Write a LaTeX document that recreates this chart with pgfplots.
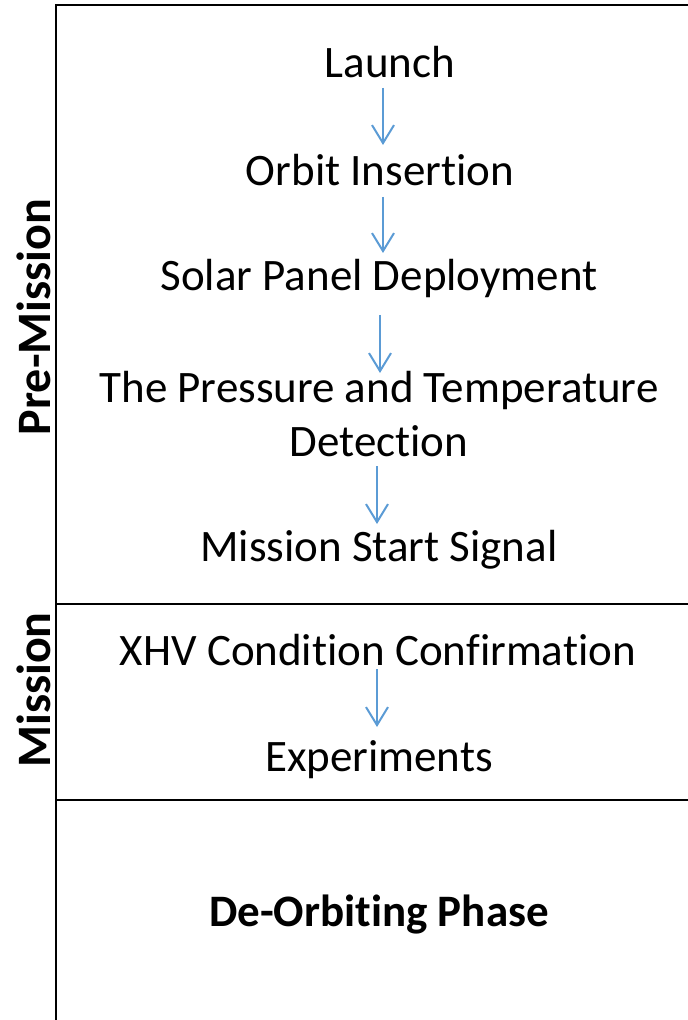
\documentclass[border=0pt]{standalone}
\usepackage{pgfplots}
\pgfplotsset{compat=1.18}
\usepackage{fontspec}
\setmainfont{Carlito}[Ligatures=CommonOff]
\usetikzlibrary{arrows.meta}
\definecolor{arrowblue}{HTML}{5B9BD5}
\newcommand{\lbl}{\fontsize{22.5}{27}\selectfont}
\newcommand{\side}{\fontsize{24}{28}\selectfont\bfseries}
\begin{document}
\begin{tikzpicture}
\begin{axis}[
  width=344pt, height=510pt, scale only axis,
  xmin=0, xmax=688, ymin=0, ymax=1020, y dir=reverse,
  hide axis, clip=false,
  arr/.style={arrowblue, line width=1pt, -{Straight Barb[length=9pt,width=11pt]}, forget plot},
]
% frame lines
\addplot[black, line width=1.3pt, forget plot] coordinates {(56,1020) (56,5) (688,5)};
\addplot[black, line width=1pt, forget plot] coordinates {(56,604) (688,604)};
\addplot[black, line width=1pt, forget plot] coordinates {(56,800) (688,800)};
% arrows
\addplot[arr] coordinates {(383,88) (383,145)};
\addplot[arr] coordinates {(383,197) (383,253)};
\addplot[arr] coordinates {(380,315) (380,373)};
\addplot[arr] coordinates {(377,466) (377,524)};
\addplot[arr] coordinates {(377,669) (377,727)};
% labels
\node[font=\lbl] at (axis cs:390,62) {Launch};
\node[font=\lbl] at (axis cs:380,170) {Orbit Insertion};
\node[font=\lbl] at (axis cs:379,279) {Solar Panel Deployment};
\node[font=\lbl, align=center] at (axis cs:379,414) {The Pressure and Temperature\\Detection};
\node[font=\lbl] at (axis cs:379,550) {Mission Start Signal};
\node[font=\lbl] at (axis cs:378,650) {XHV Condition Confirmation};
\node[font=\lbl] at (axis cs:379,760) {Experiments};
\node[font=\lbl\bfseries] at (axis cs:379,915) {De-Orbiting Phase};
\node[font=\side, rotate=90] at (axis cs:34,317) {Pre-Mission};
\node[font=\side, rotate=90] at (axis cs:34,690) {Mission};
\end{axis}
\pgfresetboundingbox
\path[use as bounding box] (current axis.south west) rectangle (current axis.north east);
\end{tikzpicture}
\end{document}
